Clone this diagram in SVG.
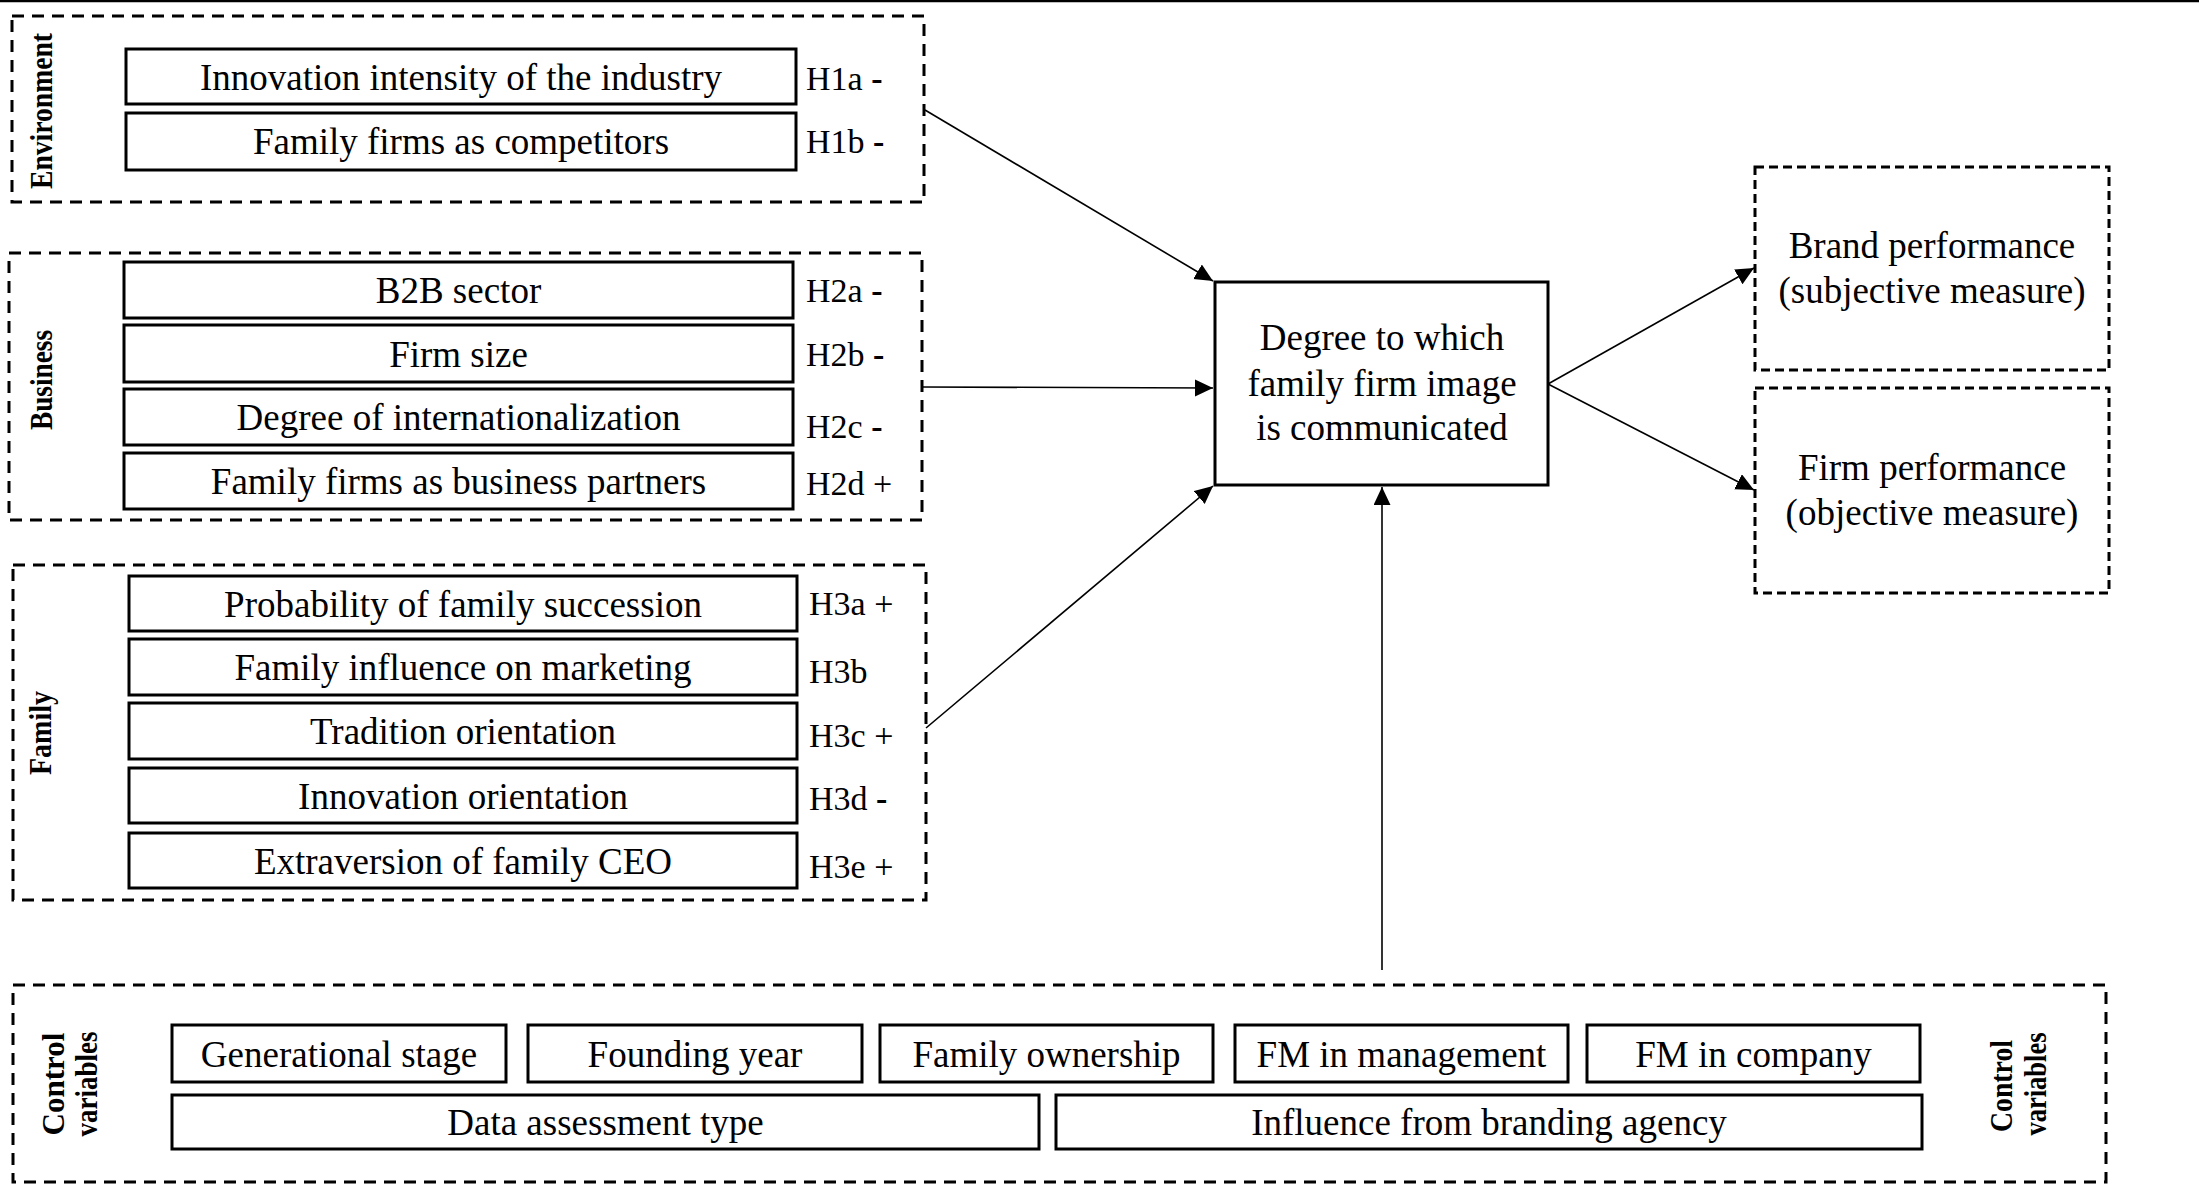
<svg xmlns="http://www.w3.org/2000/svg" width="2199" height="1191" viewBox="0 0 2199 1191">
<style>
text{font-family:"Liberation Serif","Times New Roman",serif;fill:#000}
.t{font-size:37px;text-anchor:middle}
.h{font-size:34px}
.m{font-weight:bold}
.g{font-size:32px;font-weight:bold;text-anchor:middle}
.box{fill:#fff;stroke:#000;stroke-width:3}
.grp{fill:none;stroke:#000;stroke-width:3;stroke-dasharray:12 8}
.out{fill:none;stroke:#000;stroke-width:3;stroke-dasharray:9 5}
.conn{fill:none;stroke:#000;stroke-width:1.6;marker-end:url(#ah)}
</style>
<defs>
<marker id="ah" markerUnits="userSpaceOnUse" markerWidth="20" markerHeight="20" refX="18" refY="8.5" orient="auto">
<path d="M0,0 L18,8.5 L0,17 Z" fill="#000"/>
</marker>
</defs>
<rect width="2199" height="1191" fill="#fff"/>
<line x1="0" y1="1" x2="2199" y2="1" stroke="#000" stroke-width="2.5"/>

<g id="environment">
<rect class="grp" x="12" y="16" width="912" height="186"/>
<text class="g" transform="translate(52,111) rotate(-90)" textLength="156" lengthAdjust="spacingAndGlyphs">Environment</text>
<g id="h1a"><rect class="box" x="126" y="49" width="670" height="55"/><text class="t" x="461" y="90">Innovation intensity of the industry</text></g>
<g id="h1b"><rect class="box" x="126" y="113" width="670" height="57"/><text class="t" x="461" y="154">Family firms as competitors</text></g>
<text class="h" x="806" y="90">H1a <tspan class="m">-</tspan></text>
<text class="h" x="806" y="153">H1b <tspan class="m">-</tspan></text>
</g>

<g id="business">
<rect class="grp" x="9" y="253" width="913" height="267"/>
<text class="g" transform="translate(52,380) rotate(-90)" textLength="100" lengthAdjust="spacingAndGlyphs">Business</text>
<g id="h2a"><rect class="box" x="124" y="262" width="669" height="56"/><text class="t" x="458.5" y="303">B2B sector</text></g>
<g id="h2b"><rect class="box" x="124" y="325" width="669" height="57"/><text class="t" x="458.5" y="367">Firm size</text></g>
<g id="h2c"><rect class="box" x="124" y="389" width="669" height="56"/><text class="t" x="458.5" y="430">Degree of internationalization</text></g>
<g id="h2d"><rect class="box" x="124" y="453" width="669" height="56"/><text class="t" x="458.5" y="494">Family firms as business partners</text></g>
<text class="h" x="806" y="302">H2a <tspan class="m">-</tspan></text>
<text class="h" x="806" y="366">H2b <tspan class="m">-</tspan></text>
<text class="h" x="806" y="438">H2c <tspan class="m">-</tspan></text>
<text class="h" x="806" y="495">H2d +</text>
</g>

<g id="family">
<rect class="grp" x="13" y="565" width="913" height="335"/>
<text class="g" transform="translate(51,733) rotate(-90)" textLength="84" lengthAdjust="spacingAndGlyphs">Family</text>
<g id="h3a"><rect class="box" x="129" y="576" width="668" height="55"/><text class="t" x="463" y="617">Probability of family succession</text></g>
<g id="h3b"><rect class="box" x="129" y="639" width="668" height="56"/><text class="t" x="463" y="680">Family influence on marketing</text></g>
<g id="h3c"><rect class="box" x="129" y="703" width="668" height="56"/><text class="t" x="463" y="744">Tradition orientation</text></g>
<g id="h3d"><rect class="box" x="129" y="768" width="668" height="55"/><text class="t" x="463" y="809">Innovation orientation</text></g>
<g id="h3e"><rect class="box" x="129" y="833" width="668" height="55"/><text class="t" x="463" y="874">Extraversion of family CEO</text></g>
<text class="h" x="809" y="615">H3a +</text>
<text class="h" x="809" y="683">H3b</text>
<text class="h" x="809" y="747">H3c +</text>
<text class="h" x="809" y="810">H3d <tspan class="m">-</tspan></text>
<text class="h" x="809" y="878">H3e +</text>
</g>

<g id="central">
<rect class="box" x="1215" y="282" width="333" height="203"/>
<text class="t" x="1382" y="350">Degree to which</text>
<text class="t" x="1382" y="396">family firm image</text>
<text class="t" x="1382" y="440">is communicated</text>
</g>

<g id="brand">
<rect class="out" x="1755" y="167" width="354" height="203"/>
<text class="t" x="1932" y="258">Brand performance</text>
<text class="t" x="1932" y="303">(subjective measure)</text>
</g>

<g id="firm">
<rect class="out" x="1755" y="388" width="354" height="205"/>
<text class="t" x="1932" y="480">Firm performance</text>
<text class="t" x="1932" y="525">(objective measure)</text>
</g>

<g id="controls">
<rect class="grp" x="13" y="985" width="2093" height="197"/>
<text class="g" transform="translate(64,1084) rotate(-90)" textLength="103" lengthAdjust="spacingAndGlyphs">Control</text>
<text class="g" transform="translate(97,1084) rotate(-90)" textLength="105" lengthAdjust="spacingAndGlyphs">variables</text>
<text class="g" transform="translate(2012,1086) rotate(-90)" textLength="92" lengthAdjust="spacingAndGlyphs">Control</text>
<text class="g" transform="translate(2046,1084) rotate(-90)" textLength="103" lengthAdjust="spacingAndGlyphs">variables</text>
<g id="c1"><rect class="box" x="172" y="1025" width="334" height="57"/><text class="t" x="339" y="1067">Generational stage</text></g>
<g id="c2"><rect class="box" x="528" y="1025" width="334" height="57"/><text class="t" x="695" y="1067">Founding year</text></g>
<g id="c3"><rect class="box" x="880" y="1025" width="333" height="57"/><text class="t" x="1046.5" y="1067">Family ownership</text></g>
<g id="c4"><rect class="box" x="1235" y="1025" width="333" height="57"/><text class="t" x="1401.5" y="1067">FM in management</text></g>
<g id="c5"><rect class="box" x="1587" y="1025" width="333" height="57"/><text class="t" x="1753.5" y="1067">FM in company</text></g>
<g id="c6"><rect class="box" x="172" y="1095" width="867" height="54"/><text class="t" x="605.5" y="1135">Data assessment type</text></g>
<g id="c7"><rect class="box" x="1056" y="1095" width="866" height="54"/><text class="t" x="1489" y="1135">Influence from branding agency</text></g>
</g>

<g id="connectors">
<line class="conn" x1="925" y1="110" x2="1213" y2="281"/>
<line class="conn" x1="922" y1="387" x2="1213" y2="388"/>
<line class="conn" x1="926" y1="728" x2="1213" y2="486"/>
<line class="conn" x1="1382" y1="970" x2="1382" y2="487"/>
<line class="conn" x1="1548" y1="384" x2="1754" y2="268"/>
<line class="conn" x1="1548" y1="384" x2="1754" y2="490"/>
</g>
</svg>
